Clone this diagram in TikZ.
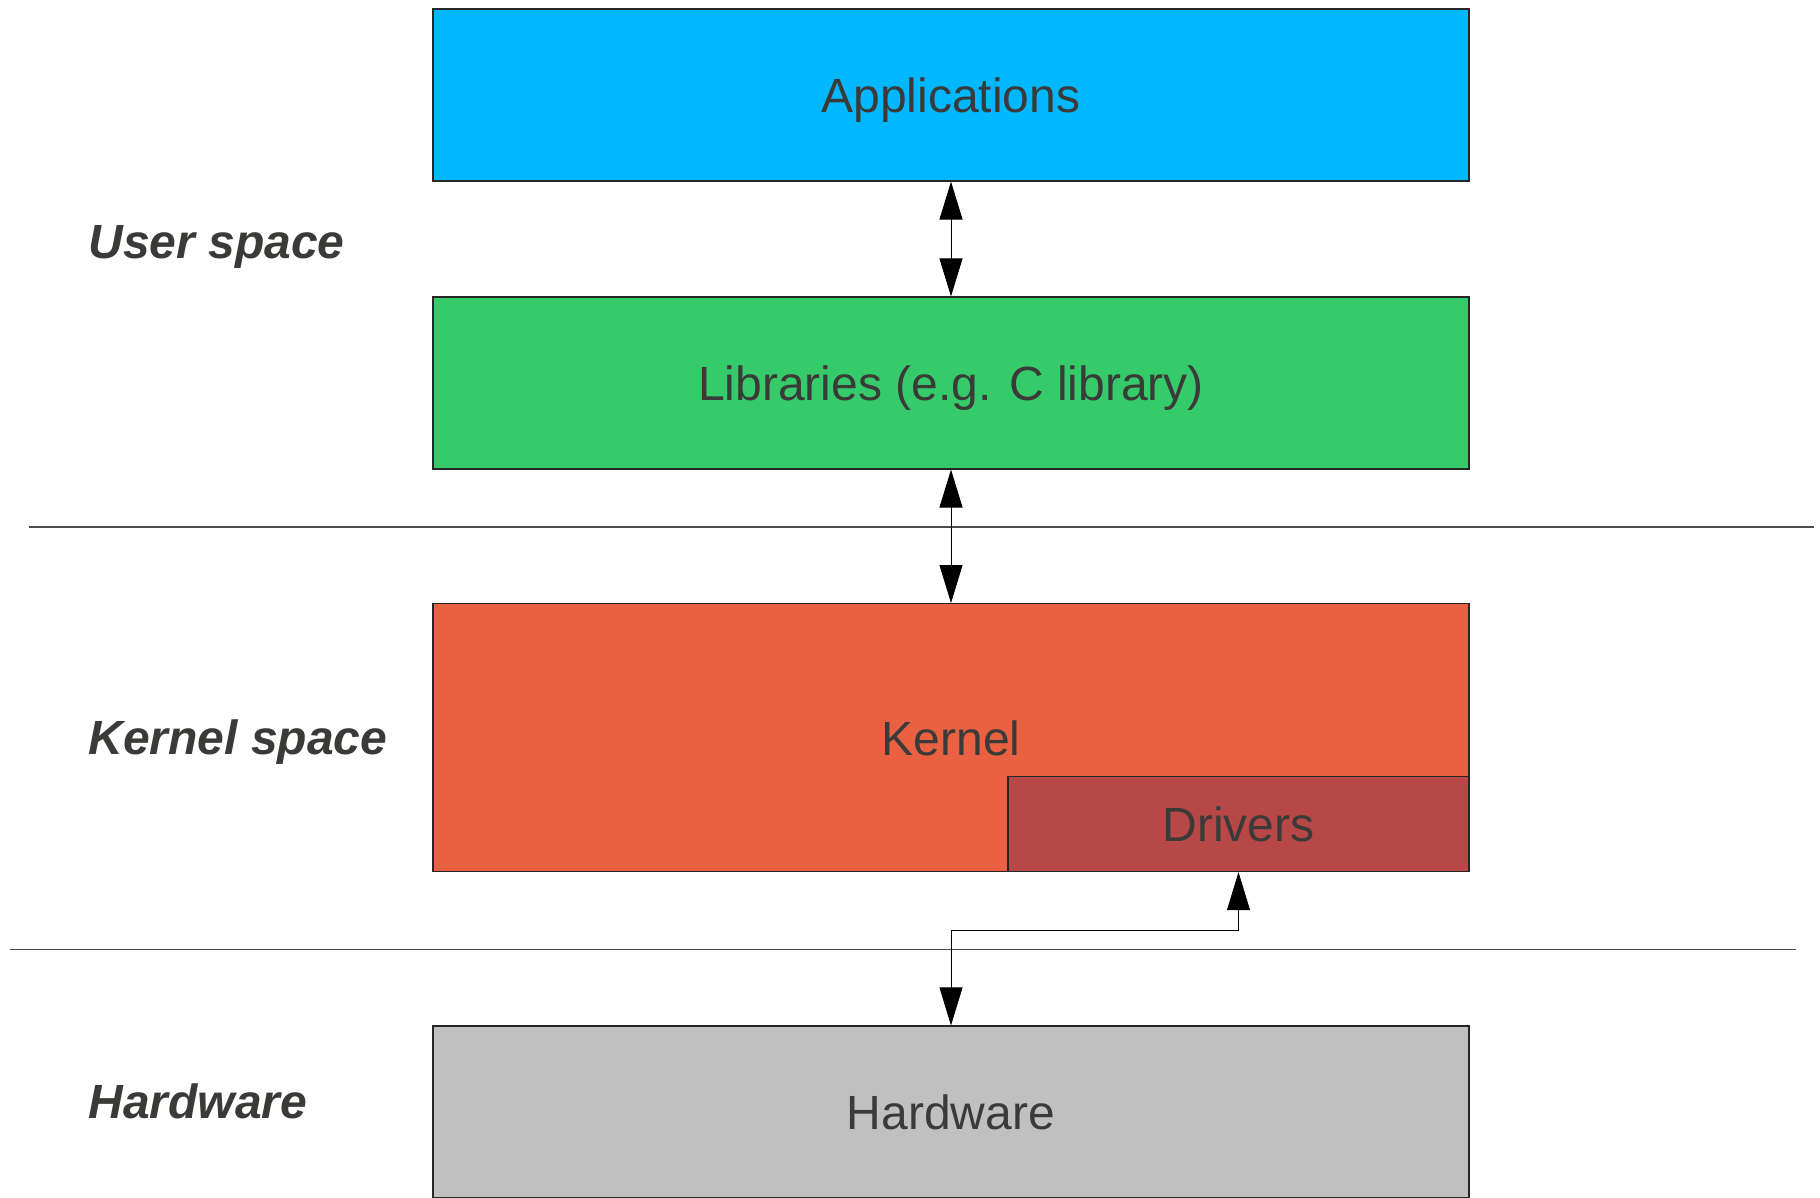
\documentclass[tikz,border=0pt]{standalone}
\usepackage{fontspec}
\setmainfont{Liberation Sans}
\usetikzlibrary{arrows.meta,positioning}

\definecolor{appblue}{HTML}{00B8FF}
\definecolor{libgreen}{HTML}{36CB6A}
\definecolor{kernred}{HTML}{EA6141}
\definecolor{drvred}{HTML}{B84848}
\definecolor{hwgray}{HTML}{C0C0C0}
\definecolor{txtgray}{HTML}{3A3A38}

\begin{document}
\begin{tikzpicture}[x=0.5pt,y=-0.5pt,
  layer/.style={draw=black!85,line width=0.6pt,minimum width=518pt,minimum height=86pt,
    inner sep=0pt,text height=17.5pt,text depth=0pt,text=txtgray,font=\fontsize{24}{28}\selectfont},
  region/.style={anchor=west,inner sep=0pt,text height=17.5pt,text depth=0pt,text=txtgray,
    font=\fontsize{24}{28}\selectfont\bfseries\itshape},
  sep/.style={draw=black!70,line width=0.6pt},
  >={Triangle[length=19pt,width=11.5pt]}]
   \useasboundingbox (0,0) rectangle (1820,1198);
   \clip (0,0) rectangle (1820,1198);

   % layers
   \node[layer,fill=appblue] (apps) at (951,95) {Applications};
   \node[layer,fill=libgreen] (libs) at (951,383) {Libraries (e.g. C library)};
   \node[layer,fill=kernred,minimum height=134pt] (kernel) at (951,737.6) {Kernel};
   \node[layer,fill=drvred,minimum width=230.5pt,minimum height=47.5pt,anchor=south east]
      (drivers) at (kernel.south east) {Drivers};
   \node[layer,fill=hwgray] (hw) at (951,1112) {Hardware};

   % regions
   \node[region] (user) at (88,241) {User space};
   \node[region] (kspace) at (88,737) {Kernel space};
   \node[region] (hwspace) at (88,1101) {Hardware};

   \draw[sep] (29,527) -- (1814,527);
   \draw[sep] (10,949.5) -- (1796,949.5);

   \path[<->]
    (apps) edge (libs)
    (libs) edge (kernel);

   \coordinate (kink) at (951,930);
   \draw[<->] (hw.north) -- (kink) -| (drivers.south);
\end{tikzpicture}
\end{document}
